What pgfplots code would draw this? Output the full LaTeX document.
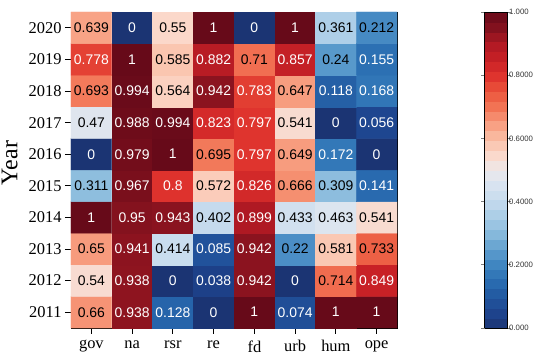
\documentclass[border=0pt]{standalone}
\usepackage{fontspec}
\setmainfont{Liberation Serif}
\newfontfamily\sansfont{Liberation Sans}
\usepackage{pgfplots}
\usepackage{pgfplotstable}
\pgfplotsset{compat=1.18}

% columns: x index (gov na rsr re fd urb hum ope), year, value, white-text flag
\pgfplotstableread{
x y c w
0 2011 0.66 0
1 2011 0.938 1
2 2011 0.128 1
3 2011 0 1
4 2011 1 1
5 2011 0.074 1
6 2011 1 1
7 2011 1 1
0 2012 0.54 0
1 2012 0.938 1
2 2012 0 1
3 2012 0.038 1
4 2012 0.942 1
5 2012 0 1
6 2012 0.714 0
7 2012 0.849 1
0 2013 0.65 0
1 2013 0.941 1
2 2013 0.414 0
3 2013 0.085 1
4 2013 0.942 1
5 2013 0.22 0
6 2013 0.581 0
7 2013 0.733 0
0 2014 1 1
1 2014 0.95 1
2 2014 0.943 1
3 2014 0.402 0
4 2014 0.899 1
5 2014 0.433 0
6 2014 0.463 0
7 2014 0.541 0
0 2015 0.311 0
1 2015 0.967 1
2 2015 0.8 1
3 2015 0.572 0
4 2015 0.826 1
5 2015 0.666 0
6 2015 0.309 0
7 2015 0.141 1
0 2016 0 1
1 2016 0.979 1
2 2016 1 1
3 2016 0.695 0
4 2016 0.797 1
5 2016 0.649 0
6 2016 0.172 1
7 2016 0 1
0 2017 0.47 0
1 2017 0.988 1
2 2017 0.994 1
3 2017 0.823 1
4 2017 0.797 1
5 2017 0.541 0
6 2017 0 1
7 2017 0.056 1
0 2018 0.693 0
1 2018 0.994 1
2 2018 0.564 0
3 2018 0.942 1
4 2018 0.783 1
5 2018 0.647 0
6 2018 0.118 1
7 2018 0.168 1
0 2019 0.778 1
1 2019 1 1
2 2019 0.585 0
3 2019 0.882 1
4 2019 0.71 0
5 2019 0.857 1
6 2019 0.24 0
7 2019 0.155 1
0 2020 0.639 0
1 2020 0 1
2 2020 0.55 0
3 2020 1 1
4 2020 0 1
5 2020 1 1
6 2020 0.361 0
7 2020 0.212 0
}\datatable

\begin{document}
\begin{tikzpicture}
\begin{axis}[
  name=main,
  scale only axis, width=326bp, height=316bp,
  xmin=-0.5, xmax=7.5, ymin=2010.5, ymax=2020.5,
  xtick={0,...,7}, xticklabels={gov,na,rsr,re,fd,urb,hum,ope},
  ytick={2011,...,2020},
  /pgf/number format/assume math mode=true,
  /pgf/number format/1000 sep={},
  tick label style={font=\fontsize{16.5}{18}\selectfont},
  xticklabel style={yshift=-3bp},
  tick align=outside, major tick length=6bp, tick pos=left,
  axis line style={line width=0.9pt},
  every tick/.style={line width=0.8pt, black},
  ylabel={Year},
  ylabel style={font=\fontsize{24}{26}\selectfont, at={(axis description cs:-0.188,0.522)}, anchor=center},
  colormap={rdbuc}{
    rgb255=(27,52,115) rgb255=(30,68,142) rgb255=(34,88,160) rgb255=(42,110,178)
    rgb255=(62,132,192) rgb255=(95,158,206) rgb255=(135,186,220) rgb255=(168,204,230)
    rgb255=(196,218,237) rgb255=(215,227,240) rgb255=(236,233,236) rgb255=(251,216,202)
    rgb255=(250,190,165) rgb255=(247,155,125) rgb255=(242,117,86) rgb255=(235,85,60)
    rgb255=(222,50,45) rgb255=(200,33,38) rgb255=(175,25,35) rgb255=(132,18,30)
    rgb255=(103,10,25)},
  point meta min=0, point meta max=1,
  colorbar sampled,
  colorbar style={
    samples=33,
    at={(main.south east)}, anchor=south west, xshift=79bp,
    scale only axis, width=23bp, height=316bp,
    ytick={0,0.2,0.4,0.6,0.8,1},
    yticklabels={0.000,0.2000,0.4000,0.6000,0.8000,1.000},
    yticklabel style={font=\fontsize{7.8}{9}\sansfont, text=black!80, inner sep=0.5pt, xshift=-2.5bp},
    major tick length=3.5bp, tick align=outside,
    axis line style={line width=0.8pt},
    every tick/.style={line width=0.7pt, gray},
  },
  unbounded coords=discard,
]
\addplot[matrix plot*, mesh/cols=8, point meta=explicit] table[x=x,y=y,meta=c]{\datatable};
\addplot[draw=none, point meta=explicit symbolic,
  x filter/.expression={\thisrow{w}>0.5 ? x : nan},
  nodes near coords,
  every node near coord/.append style={anchor=center, inner sep=0pt, font=\fontsize{14}{16}\sansfont, text=white}]
  table[x=x,y=y,meta=c]{\datatable};
\addplot[draw=none, point meta=explicit symbolic,
  x filter/.expression={\thisrow{w}<0.5 ? x : nan},
  nodes near coords,
  every node near coord/.append style={anchor=center, inner sep=0pt, font=\fontsize{14}{16}\sansfont, text=black}]
  table[x=x,y=y,meta=c]{\datatable};
\end{axis}
\pgfresetboundingbox
\path (-71bp,-29bp) rectangle (465bp,328bp);
\end{tikzpicture}
\end{document}
